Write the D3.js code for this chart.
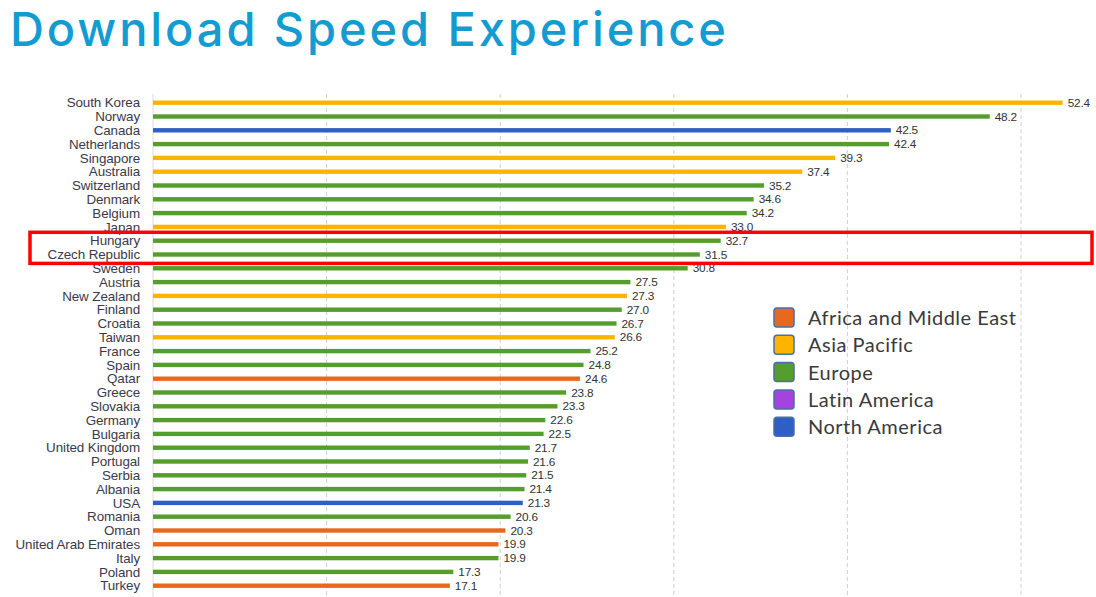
<!DOCTYPE html>
<html><head><meta charset="utf-8">
<script src="https://cdn.jsdelivr.net/npm/d3@7"></script>
<style>html,body{margin:0;padding:0;background:#fff;overflow:hidden}</style>
</head><body>
<svg id="chart" width="1096" height="597"></svg>
<script>
const countries = ["South Korea","Norway","Canada","Netherlands","Singapore","Australia","Switzerland","Denmark","Belgium","Japan","Hungary","Czech Republic","Sweden","Austria","New Zealand","Finland","Croatia","Taiwan","France","Spain","Qatar","Greece","Slovakia","Germany","Bulgaria","United Kingdom","Portugal","Serbia","Albania","USA","Romania","Oman","United Arab Emirates","Italy","Poland","Turkey"];
const speeds = [52.4,48.2,42.5,42.4,39.3,37.4,35.2,34.6,34.2,33.0,32.7,31.5,30.8,27.5,27.3,27.0,26.7,26.6,25.2,24.8,24.6,23.8,23.3,22.6,22.5,21.7,21.6,21.5,21.4,21.3,20.6,20.3,19.9,19.9,17.3,17.1];
const regionOf = ["Asia Pacific","Europe","North America","Europe","Asia Pacific","Asia Pacific","Europe","Europe","Europe","Asia Pacific","Europe","Europe","Europe","Europe","Asia Pacific","Europe","Europe","Asia Pacific","Europe","Europe","Africa and Middle East","Europe","Europe","Europe","Europe","Europe","Europe","Europe","Europe","North America","Europe","Africa and Middle East","Africa and Middle East","Europe","Europe","Africa and Middle East"];
const regions = ["Africa and Middle East","Asia Pacific","Europe","Latin America","North America"];
const regionColors = ["#e8691e","#fcb400","#559d2c","#a543e0","#2f5fc4"];
const gridTicks = [0,10,20,30,40,50];
const titleText = "Download Speed Experience";
const highlighted = ["Hungary","Czech Republic"];

const svg = d3.select("#chart");
const color = d3.scaleOrdinal().domain(regions).range(regionColors);
const x = d3.scaleLinear().domain([0,50]).range([153,1021]);
const y = d3.scaleBand().domain(countries).range([95.8, 95.8 + 36*13.8]);
const cy = d => y(d) + y.bandwidth()/2;

svg.append("text").attr("x",10).attr("y",46)
  .attr("font-family","Inter, 'Open Sans', sans-serif").attr("font-weight",500)
  .attr("font-size",47).attr("letter-spacing",2.9).attr("fill","#139bd2").text(titleText);

// grid
svg.append("g").selectAll("line").data(gridTicks).join("line")
  .attr("x1",d=>x(d)).attr("x2",d=>x(d)).attr("y1",94).attr("y2",597)
  .attr("stroke",d=>d===0?"#dcdcdc":"#d0d0d0").attr("stroke-width",1)
  .attr("stroke-dasharray",d=>d===0?null:"4,3");

const data = countries.map((c,i)=>({c, v:speeds[i], r:regionOf[i]}));

svg.append("g").selectAll("rect").data(data).join("rect")
  .attr("x",x(0)).attr("y",d=>cy(d.c)-2.2).attr("height",4.4)
  .attr("width",d=>x(d.v)-x(0)).attr("fill",d=>color(d.r));

svg.append("g").selectAll("text").data(data).join("text")
  .attr("x",d=>x(d.v)+5).attr("y",d=>cy(d.c)).attr("dy","0.35em")
  .attr("font-family","'Liberation Sans', Arial, sans-serif").attr("font-size",11.8)
  .attr("letter-spacing",-0.2).attr("fill","#333")
  .text(d=>d.v.toFixed(1));

svg.append("g").selectAll("text").data(countries).join("text")
  .attr("x",140).attr("y",d=>cy(d)).attr("dy","0.35em").attr("text-anchor","end")
  .attr("font-family","'Liberation Sans', Arial, sans-serif").attr("font-size",13.4)
  .attr("letter-spacing",-0.1).attr("fill","#3a3a4a")
  .text(d=>d);

// highlight box
const hTop = y(highlighted[0]) - 1.5, hBot = y(highlighted[1]) + y.bandwidth() + 2;
svg.append("rect").attr("x",30).attr("y",hTop).attr("width",1062).attr("height",hBot-hTop)
  .attr("fill","none").attr("stroke","#f00").attr("stroke-width",3.5);

// legend
const lg = svg.append("g").attr("transform","translate(774,308)");
const li = lg.selectAll("g").data(regions).join("g").attr("transform",(d,i)=>`translate(0,${i*27.3})`);
li.append("rect").attr("width",20).attr("height",19).attr("rx",3)
  .attr("fill",d=>color(d)).attr("stroke","#4a6fa5").attr("stroke-width",1.5);
li.append("text").attr("x",34).attr("y",10).attr("dy","0.35em")
  .attr("font-family","Lato, 'Open Sans', sans-serif").attr("font-size",20)
  .attr("letter-spacing",0.5).attr("fill","#3a3a3a").text(d=>d);
</script>
</body></html>
